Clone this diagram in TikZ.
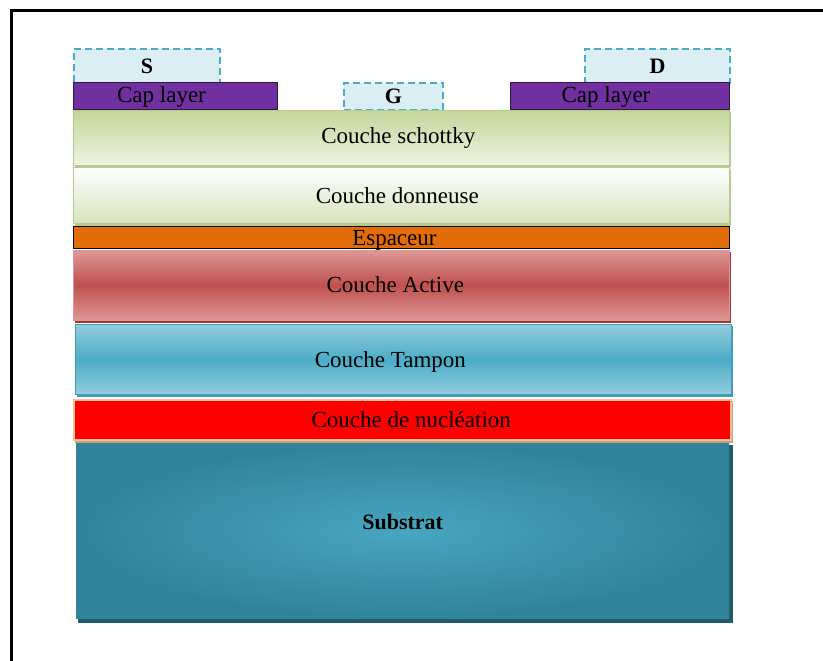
\documentclass[tikz,border=0pt]{standalone}
\usepackage{fontspec}
\setmainfont{Liberation Serif}
\definecolor{contactfill}{HTML}{DBEEF4}
\definecolor{contactedge}{HTML}{4BACC6}
\definecolor{capfill}{HTML}{7030A0}
\definecolor{capedge}{HTML}{2E1845}
\definecolor{schotkytop}{HTML}{C3D69B}
\definecolor{schotkybot}{HTML}{EEF3E3}
\definecolor{donortop}{HTML}{FFFFFF}
\definecolor{donorbot}{HTML}{D7E4BD}
\definecolor{greenedge}{HTML}{B5CC8E}
\definecolor{spacerfill}{HTML}{E36C09}
\definecolor{activeout}{HTML}{DC9896}
\definecolor{activemid}{HTML}{C0504D}
\definecolor{activeedge}{HTML}{9B3B39}
\definecolor{bufferout}{HTML}{93CDDD}
\definecolor{buffermid}{HTML}{4BACC6}
\definecolor{bufferedge}{HTML}{3E9FBA}
\definecolor{nuclfill}{HTML}{FF0000}
\definecolor{nucledge}{HTML}{FAC090}
\definecolor{nuclshadow}{HTML}{C8A080}
\definecolor{subinner}{HTML}{47A6C0}
\definecolor{subouter}{HTML}{31839A}
\definecolor{subshadow}{HTML}{215B6B}
% label text moved by (#1 right, #2 up) inside its layer, keeping the box size
\newcommand{\movedtext}[3]{\raisebox{#2}[\height][\depth]{\makebox[0pt]{\kern#1\relax#3\kern-#1\relax}}}
\tikzset{
  x=1pt, y=-1pt,
  every node/.style={font=\fontsize{23}{26}\selectfont, inner sep=0pt, anchor=north west, text=black},
  contact/.style={draw=contactedge, fill=contactfill, dashed, dash pattern=on 7pt off 4pt, line width=2pt, font=\fontsize{22}{26}\selectfont\bfseries},
  caplayer/.style={draw=capedge, fill=capfill, line width=1pt, text depth=0pt},
  layer/.style={minimum width=656pt},
}
\begin{document}
\begin{tikzpicture}
\useasboundingbox (0,0) rectangle (823,661);
\clip (0,0) rectangle (823,661);
\fill[white] (0,0) rectangle (823,661);
% outer frame, running off the right and bottom sides
\draw[line width=3pt] (11,11) rectangle (840,680);

% metal contacts
\node[contact, minimum width=146pt, minimum height=34pt] (S) at (73,48) {S};
\node[contact, minimum width=145pt, minimum height=34pt] (D) at (584,48) {D};
\node[contact, minimum width=99pt, minimum height=27pt] (G) at (343,82) {G};

% cap layers
\node[caplayer, minimum width=204pt, minimum height=27pt] (capL) at (73,82) {\movedtext{-14pt}{1.5pt}{Cap layer}};
\node[caplayer, minimum width=219pt, minimum height=27pt] (capR) at (510,82) {\movedtext{-14pt}{1.5pt}{Cap layer}};

% epitaxial stack
\fill[greenedge] (75,112) rectangle (731,167);
\node[layer, minimum height=55pt, top color=schotkytop, bottom color=schotkybot, draw=greenedge, line width=0.6pt] (schottky) at (73,110) {\movedtext{-3pt}{0pt}{Couche schottky}};

\fill[greenedge] (75,169) rectangle (731,226);
\node[layer, minimum height=56pt, top color=donortop, bottom color=donorbot, draw=greenedge, line width=0.6pt] (donor) at (73,167) {\movedtext{-4pt}{0pt}{Couche donneuse}};

\node[layer, minimum height=22pt, fill=spacerfill, draw=black, line width=0.8pt] (spacer) at (73,226) {\movedtext{-7pt}{-3pt}{Espaceur}};

\fill[activeedge] (75,252) rectangle (731,323);
\node[layer, minimum height=70pt, top color=activeout, bottom color=activeout, middle color=activemid, draw=activeout, line width=0.6pt] (active) at (73,250) {\movedtext{-6pt}{1pt}{Couche Active}};

\fill[bufferedge] (77,326) rectangle (733,397);
\node[layer, minimum height=70pt, top color=bufferout, bottom color=bufferout, middle color=buffermid, draw=bufferedge, line width=0.8pt] (buffer) at (75,324) {\movedtext{-13pt}{-3pt}{Couche Tampon}};

\fill[nuclshadow] (75,401) rectangle (733,443);
\node[minimum width=657pt, minimum height=40pt, fill=nuclfill, draw=nucledge, line width=1.5pt] (nucl) at (73,399) {\movedtext{9pt}{0pt}{Couche de nucléation}};

\fill[subshadow] (78,445) rectangle (733,623);
\node[minimum width=653pt, minimum height=175pt, shading=radial, inner color=subinner, outer color=subouter, font=\fontsize{22}{26}\selectfont\bfseries] (sub) at (76,443) {\movedtext{0pt}{9pt}{Substrat}};
\end{tikzpicture}
\end{document}
